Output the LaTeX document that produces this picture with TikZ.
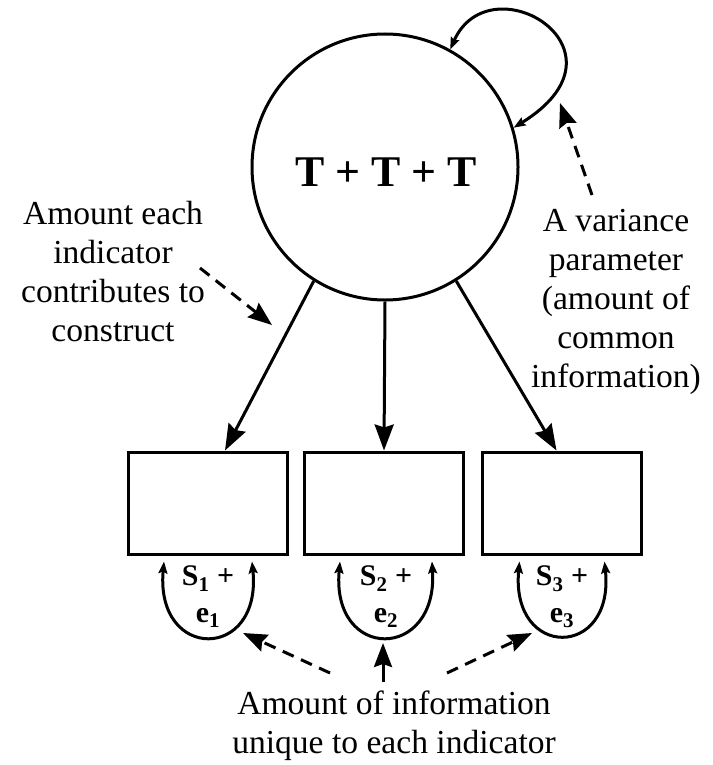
\documentclass[tikz,border=0pt]{standalone}
\usepackage{fontspec}
\setmainfont{Liberation Serif}
\usetikzlibrary{arrows.meta,calc}
\begin{document}
\begin{tikzpicture}[x=1bp,y=-1bp,
  lw/.style={line width=3bp},
  bigarrow/.style={lw,-{Stealth[length=26bp,width=19bp,inset=3bp]}},
  dasharrow/.style={lw,dash pattern=on 12bp off 8bp,-{Stealth[length=24bp,width=18bp,inset=3bp]}},
  looparrow/.style={lw,{Stealth[length=12bp,width=9bp,inset=2bp]}-{Stealth[length=12bp,width=9bp,inset=2bp]}},
  box/.style={draw,lw,minimum width=159bp,minimum height=102bp,inner sep=0pt},
  lbl/.style={align=center,inner sep=0pt,font=\fontsize{33.7}{39}\selectfont},
  slbl/.style={align=center,inner sep=0pt,font=\fontsize{30}{37}\selectfont\bfseries}
]
\useasboundingbox (0,0) rectangle (713,765);
% construct
\node[draw,lw,circle,minimum size=266bp,inner sep=0pt] (c) at (385,167) {};
\node[inner sep=0pt,font=\fontsize{44}{50}\selectfont\bfseries] (ttt) at (386,172) {T + T + T};
% indicators
\node[box] (b1) at (208,503) {};
\node[box] (b2) at (384,503) {};
\node[box] (b3) at (561.5,503) {};
% loadings
\draw[bigarrow] (c.238) -- ([xshift=17bp]b1.north);
\draw[bigarrow] (c.270) -- (b2.north);
\draw[bigarrow] (c.302) -- ([xshift=-5bp]b3.north);
% variance loop
\draw[looparrow] (c.61) .. controls (490,-40) and (640,50) .. (c.17);
% uniqueness loops
\draw[looparrow] ($(b1.south)+(-44,6)$) .. controls ($(b1.south)+(-53,106)$) and ($(b1.south)+(54,106)$) .. ($(b1.south)+(44,6)$);
\draw[looparrow] ($(b2.south)+(-44,6)$) .. controls ($(b2.south)+(-53,106)$) and ($(b2.south)+(54,106)$) .. ($(b2.south)+(48,6)$);
\draw[looparrow] ($(b3.south)+(-42,6)$) .. controls ($(b3.south)+(-51,104)$) and ($(b3.south)+(53,104)$) .. ($(b3.south)+(43,6)$);
\node[slbl] (s1) at (208,597) {S\textsubscript{1} +\\e\textsubscript{1}};
\node[slbl] (s2) at (386,597) {S\textsubscript{2} +\\e\textsubscript{2}};
\node[slbl] (s3) at (562,597) {S\textsubscript{3} +\\e\textsubscript{3}};
% annotations
\node[lbl] (tleft) at (113,271.5) {Amount each\\indicator\\contributes to\\construct};
\node[lbl] (tright) at (616,302) {A variance\\parameter\\(amount of\\common\\information)};
\node[lbl] (tbot) at (394,726) {Amount of information\\unique to each indicator};
\coordinate (la) at (200,268);
\coordinate (lb) at (272,325);
\coordinate (ra) at (592,195);
\coordinate (rb) at (560,103);
\coordinate (ba1) at (330,673);
\coordinate (bb1) at (243,633);
\coordinate (ba2) at (383,682);
\coordinate (bb2) at (383,643);
\coordinate (ba3) at (447,673);
\coordinate (bb3) at (532,633);
\draw[dasharrow] (la) -- (lb);
\draw[dasharrow] (ra) -- (rb);
\draw[dasharrow] (ba1) -- (bb1);
\draw[lw,-{Stealth[length=24bp,width=18bp,inset=3bp]}] (ba2) -- (bb2);
\draw[dasharrow] (ba3) -- (bb3);
\end{tikzpicture}
\end{document}
